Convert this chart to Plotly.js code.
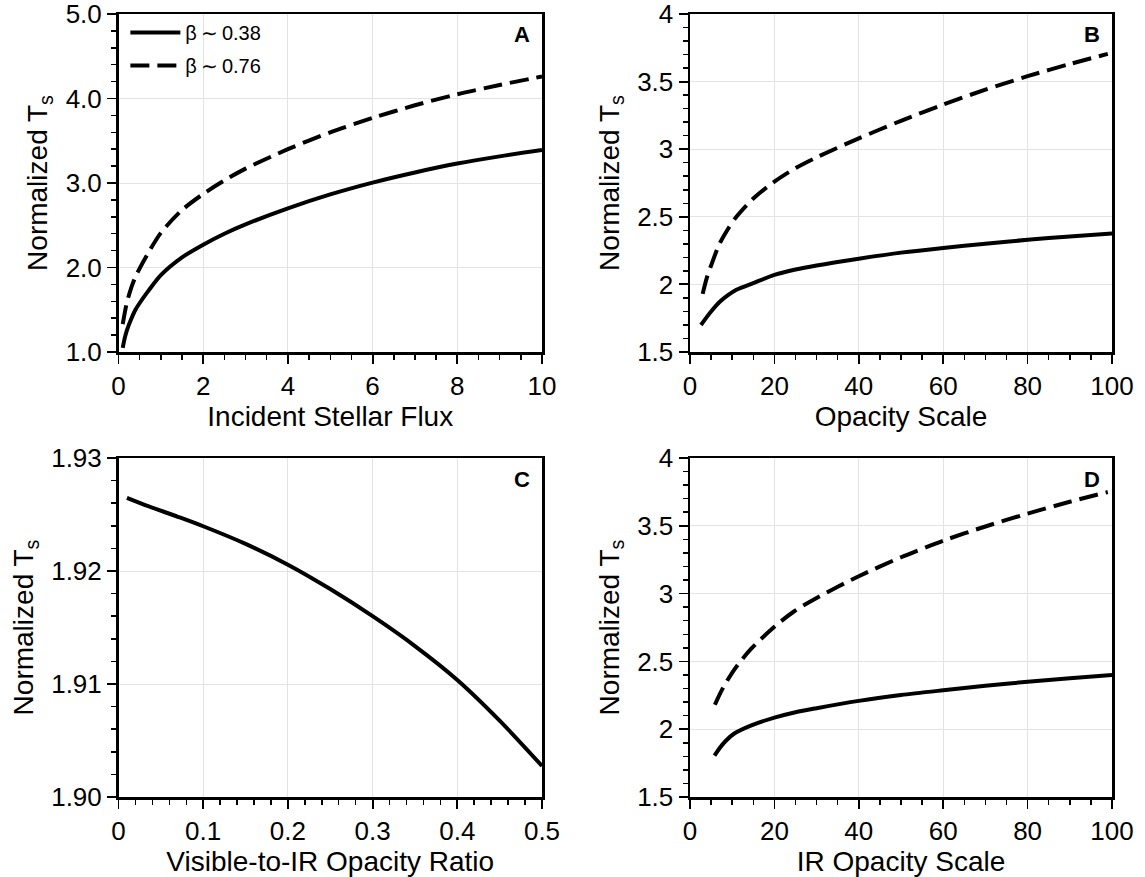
<!DOCTYPE html>
<html>
<head>
<meta charset="utf-8">
<script src="https://cdn.plot.ly/plotly-3.0.1.min.js"></script>
<style>html,body{margin:0;padding:0;background:#fff;}#chart{width:1145px;height:877px;}</style>
</head>
<body>
<div id="chart"></div>
<script>
// Panel A: Incident Stellar Flux
const fluxA = [0.1, 0.15, 0.2, 0.3, 0.4, 0.5, 0.7, 1, 1.5, 2, 2.5, 3, 4, 5, 6, 7, 8, 9, 10];
const tsA_low = [1.05, 1.17, 1.26, 1.39, 1.50, 1.58, 1.72, 1.91, 2.12, 2.27, 2.40, 2.51, 2.70, 2.865, 3.005, 3.125, 3.23, 3.315, 3.39];
const tsA_high = [1.33, 1.47, 1.59, 1.76, 1.89, 1.99, 2.17, 2.41, 2.68, 2.87, 3.03, 3.17, 3.40, 3.60, 3.77, 3.92, 4.05, 4.16, 4.26];

// Panel B: Opacity Scale
const opB_low = [2.6, 4, 5, 7, 9, 11, 15, 20, 25, 30, 40, 50, 60, 70, 80, 90, 100];
const tsB_low = [1.70, 1.76, 1.80, 1.87, 1.92, 1.96, 2.01, 2.07, 2.11, 2.14, 2.19, 2.235, 2.27, 2.30, 2.33, 2.355, 2.377];
const opB_high = [3, 4, 5, 7, 9, 11, 15, 20, 25, 30, 40, 50, 60, 70, 80, 90, 99];
const tsB_high = [1.93, 2.05, 2.14, 2.30, 2.41, 2.50, 2.635, 2.76, 2.86, 2.94, 3.08, 3.21, 3.33, 3.44, 3.54, 3.63, 3.705];

// Panel C: Visible-to-IR Opacity Ratio
const ratioC = [0.01, 0.035, 0.07, 0.1, 0.15, 0.2, 0.25, 0.3, 0.35, 0.4, 0.45, 0.5];
const tsC = [1.92648, 1.92574, 1.92480, 1.92396, 1.92240, 1.92056, 1.91840, 1.91600, 1.91336, 1.91036, 1.90676, 1.90275];

// Panel D: IR Opacity Scale
const opD_low = [5.8, 7, 8.5, 10.5, 14.4, 20, 25, 30, 40, 50, 60, 70, 80, 90, 100];
const tsD_low = [1.805, 1.86, 1.915, 1.968, 2.027, 2.085, 2.125, 2.155, 2.209, 2.252, 2.287, 2.32, 2.35, 2.376, 2.40];
const opD_high = [5.9, 7, 8.1, 10.5, 14.4, 20, 24.7, 30, 40, 50, 60, 70, 80, 90, 99];
const tsD_high = [2.18, 2.255, 2.32, 2.44, 2.59, 2.755, 2.87, 2.968, 3.128, 3.268, 3.39, 3.495, 3.59, 3.677, 3.749];

const labelLow = 'β\u2009∼\u20090.38';
const labelHigh = 'β\u2009∼\u20090.76';

const solid = {color: 'black', width: 4, dash: 'solid', shape: 'spline', smoothing: 0.8};
const dashed = {color: 'black', width: 4, dash: '19px,8px', shape: 'spline', smoothing: 0.8};

const traces = [
  {x: fluxA, y: tsA_low, mode: 'lines', line: solid, name: labelLow, legendgroup: 'a', xaxis: 'x', yaxis: 'y', showlegend: true},
  {x: fluxA, y: tsA_high, mode: 'lines', line: dashed, name: labelHigh, legendgroup: 'b', xaxis: 'x', yaxis: 'y', showlegend: true},
  {x: opB_low, y: tsB_low, mode: 'lines', line: solid, xaxis: 'x2', yaxis: 'y2', showlegend: false},
  {x: opB_high, y: tsB_high, mode: 'lines', line: dashed, xaxis: 'x2', yaxis: 'y2', showlegend: false},
  {x: ratioC, y: tsC, mode: 'lines', line: solid, xaxis: 'x3', yaxis: 'y3', showlegend: false},
  {x: opD_low, y: tsD_low, mode: 'lines', line: solid, xaxis: 'x4', yaxis: 'y4', showlegend: false},
  {x: opD_high, y: tsD_high, mode: 'lines', line: dashed, xaxis: 'x4', yaxis: 'y4', showlegend: false}
];

const W = 1145, H = 877;
const fnt = 'Liberation Sans, Arial, Helvetica, sans-serif';
function ax(opts) {
  return Object.assign({
    showline: true, linecolor: 'black', linewidth: 2.5, mirror: true,
    ticks: 'outside', ticklen: 9, tickwidth: 1.8, tickcolor: 'black',
    showgrid: true, gridcolor: '#e3e3e3', gridwidth: 1, zeroline: false,
    tickfont: {family: fnt, size: 26, color: 'black'},
    ticklabeloverflow: 'allow',
    automargin: false, fixedrange: true
  }, opts);
}
function minor(d) {
  return {dtick: d, ticks: 'outside', ticklen: 5, tickwidth: 1.5, tickcolor: 'black', showgrid: false};
}
function xt(t) { return {text: t, standoff: 6, font: {family: fnt, size: 28, color: 'black'}}; }
function yt(t) { return {text: t, standoff: 10, font: {family: fnt, size: 28, color: 'black'}}; }

const dxL = [118.5 / W, 542 / W];
const dxR = [690 / W, 1112 / W];
const dyT = [1 - 352 / H, 1 - 14 / H];
const dyB = [1 - 797 / H, 1 - 458 / H];
const ytitle = 'Normalized T<sub>s</sub>';

const layout = {
  width: W, height: H,
  margin: {l: 0, r: 0, t: 0, b: 0},
  paper_bgcolor: 'white', plot_bgcolor: 'white',
  font: {family: fnt, color: 'black'},
  xaxis: ax({domain: dxL, anchor: 'y', range: [0, 10], dtick: 2, minor: minor(0.5), title: xt('Incident Stellar Flux')}),
  yaxis: ax({domain: dyT, anchor: 'x', range: [1, 5], dtick: 1, tickformat: '.1f', minor: minor(0.2), title: yt(ytitle)}),
  xaxis2: ax({domain: dxR, anchor: 'y2', range: [0, 100], dtick: 20, minor: minor(5), title: xt('Opacity Scale')}),
  yaxis2: ax({domain: dyT, anchor: 'x2', range: [1.5, 4], dtick: 0.5, minor: minor(0.1), title: yt(ytitle)}),
  xaxis3: ax({domain: dxL, anchor: 'y3', range: [0, 0.5], dtick: 0.1, minor: minor(0.02), title: xt('Visible-to-IR Opacity Ratio')}),
  yaxis3: ax({domain: dyB, anchor: 'x3', range: [1.90, 1.93], dtick: 0.01, tickformat: '.2f', minor: minor(0.002), title: yt(ytitle)}),
  xaxis4: ax({domain: dxR, anchor: 'y4', range: [0, 100], dtick: 20, minor: minor(5), title: xt('IR Opacity Scale')}),
  yaxis4: ax({domain: dyB, anchor: 'x4', range: [1.5, 4], dtick: 0.5, minor: minor(0.1), title: yt(ytitle)}),
  showlegend: true,
  legend: {
    x: dxL[0] + 0.006, y: dyT[1] + 0.001, xanchor: 'left', yanchor: 'top',
    bgcolor: 'rgba(255,255,255,0)', borderwidth: 0,
    font: {family: fnt, size: 20, color: 'black'},
    itemwidth: 50, tracegroupgap: 4
  },
  annotations: ['A', 'B', 'C', 'D'].map((L, i) => ({
    text: '<b>' + L + '</b>',
    xref: (i === 0 ? 'x' : 'x' + (i + 1)) + ' domain',
    yref: (i === 0 ? 'y' : 'y' + (i + 1)) + ' domain',
    x: 0.953, y: 0.938, xanchor: 'center', yanchor: 'middle',
    showarrow: false, font: {family: fnt, size: 22, color: 'black'}
  }))
};

Plotly.newPlot('chart', traces, layout, {displayModeBar: false, staticPlot: true});
</script>
</body>
</html>
